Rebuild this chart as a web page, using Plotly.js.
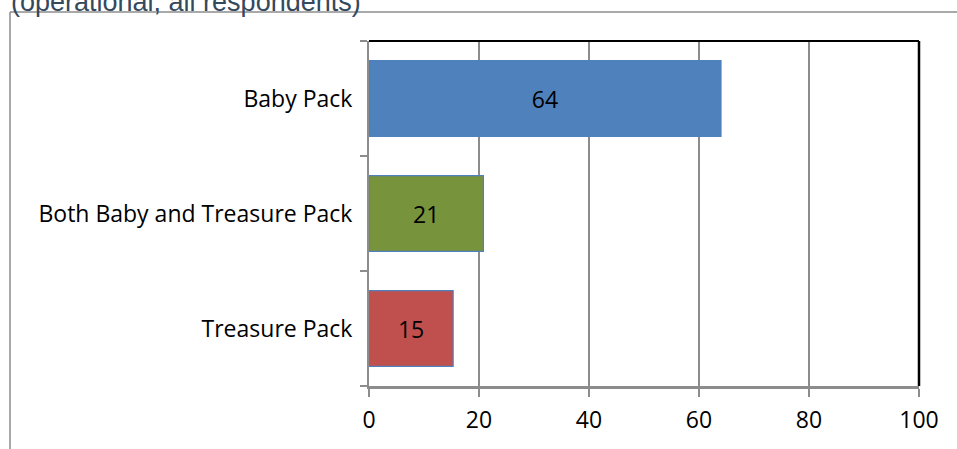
<!DOCTYPE html>
<html><head><meta charset="utf-8">
<script src="https://cdn.plot.ly/plotly-3.0.1.min.js"></script>
<style>html,body{margin:0;padding:0;background:#fff}</style>
</head><body>
<div id="chart" style="width:957px;height:449px"></div>
<script>
const categories = ['Treasure Pack', 'Both Baby and Treasure Pack', 'Baby Pack'];
const values = [15.3, 20.8, 64.0];
const barColors = ['#c0504d', '#77933c', '#4f81bd'];
const xTicks = [0, 20, 40, 60, 80, 100];
const titleText = '(operational, all respondents)';

const L = 369, R = 919, T = 41, B = 386;
const W = R - L, H = B - T;
const px = v => (v - L) / W;
const py = v => (B - v) / H;
const FONT = '"Open Sans", Lato, sans-serif';

const trace = {
  type: 'bar', orientation: 'h',
  y: categories, x: values,
  marker: {color: barColors, line: {color: '#4f81bd', width: 1.2}},
  width: 0.66,
  text: values.map(v => String(Math.round(v))),
  textposition: 'inside', insidetextanchor: 'middle',
  textfont: {family: FONT, size: 23, color: '#000'},
  hoverinfo: 'none', cliponaxis: false
};

const layout = {
  width: 957, height: 449,
  margin: {l: L, r: 957 - R, t: T, b: 449 - B, pad: 0},
  paper_bgcolor: '#fff', plot_bgcolor: '#fff',
  showlegend: false,
  font: {family: FONT, size: 23, color: '#000'},
  xaxis: {
    range: [0, 100], tickvals: xTicks, ticktext: xTicks.map(String),
    showgrid: true, gridcolor: '#8c8c8c', gridwidth: 1.5,
    showline: true, linecolor: '#8c8c8c', linewidth: 2.5,
    ticks: 'outside', ticklen: 8, tickcolor: '#8c8c8c', tickwidth: 1.5,
    ticklabelstandoff: 4, zeroline: false, fixedrange: true,
    tickfont: {size: 23}
  },
  yaxis: {
    type: 'category', categoryorder: 'array', categoryarray: categories,
    range: [-0.5, 2.5],
    showgrid: false, showline: true, linecolor: '#8c8c8c', linewidth: 2,
    ticks: 'outside', tickson: 'boundaries', ticklen: 7, tickcolor: '#8c8c8c', tickwidth: 1.5,
    ticklabelstandoff: 10, zeroline: false, fixedrange: true,
    tickfont: {size: 23}
  },
  shapes: [
    {type: 'line', xref: 'paper', yref: 'paper', x0: 0, x1: 1, y0: 1, y1: 1, line: {color: '#000', width: 2}},
    {type: 'line', xref: 'paper', yref: 'paper', x0: 1, x1: 1, y0: 0, y1: 1, line: {color: '#000', width: 2.5}},
    {type: 'line', xref: 'paper', yref: 'paper', x0: px(10), x1: px(957), y0: py(12), y1: py(12), line: {color: '#8c8c8c', width: 1.5}},
    {type: 'line', xref: 'paper', yref: 'paper', x0: px(10), x1: px(10), y0: py(12), y1: py(449), line: {color: '#8c8c8c', width: 1.5}}
  ],
  annotations: [{
    text: titleText, xref: 'paper', yref: 'paper',
    x: px(9), y: py(2), xanchor: 'left', yanchor: 'middle',
    showarrow: false,
    font: {family: '"Liberation Sans", Arial, sans-serif', size: 27, color: '#34495e'}
  }]
};

Plotly.newPlot('chart', [trace], layout, {displayModeBar: false, staticPlot: true});
</script>
</body></html>
